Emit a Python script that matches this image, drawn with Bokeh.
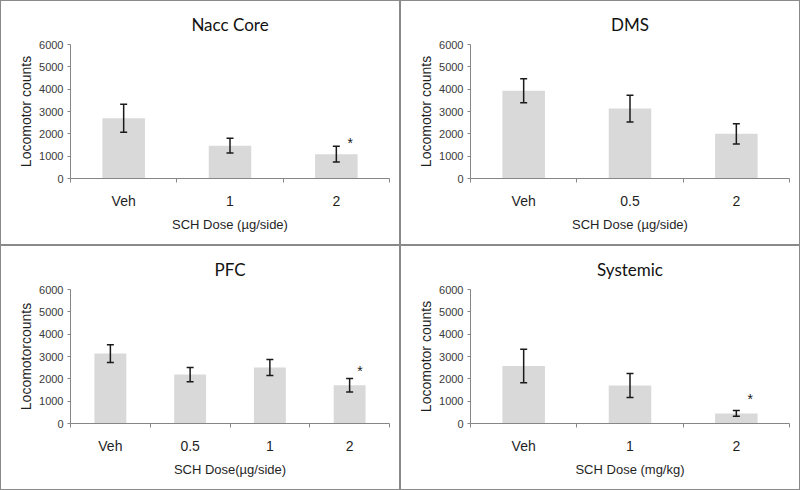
from bokeh.plotting import figure
from bokeh.layouts import column, row
from bokeh.models import (ColumnDataSource, Range1d, FixedTicker, Whisker, TeeHead)
from bokeh.core.properties import value
from bokeh.embed import file_html
from bokeh.resources import INLINE

# ---- data ----
titles = ["Nacc Core", "DMS", "PFC", "Systemic"]
ylabels = ["Locomotor counts", "Locomotor counts", "Locomotorcounts", "Locomotor counts"]
xlabels = ["SCH Dose (µg/side)", "SCH Dose (µg/side)", "SCH Dose(µg/side)", "SCH Dose (mg/kg)"]

nacc_cats = ["Veh", "1", "2"]
nacc_mean = [2700, 1470, 1090]
nacc_err = [630, 330, 350]
nacc_star_y = [None, None, 1600]

dms_cats = ["Veh", "0.5", "2"]
dms_mean = [3930, 3130, 2000]
dms_err = [540, 600, 450]
dms_star_y = [None, None, None]

pfc_cats = ["Veh", "0.5", "1", "2"]
pfc_mean = [3130, 2190, 2510, 1710]
pfc_err = [400, 320, 360, 300]
pfc_star_y = [None, None, None, 2350]

sys_cats = ["Veh", "1", "2"]
sys_mean = [2580, 1700, 450]
sys_err = [750, 540, 130]
sys_star_y = [None, None, 1080]

y_ticks = [0, 1000, 2000, 3000, 4000, 5000, 6000]

TITLE_FONT = "Lato"
FONT = "Liberation Sans"
AXIS_COLOR = "#868686"
TEXT_COLOR = "#1f1f1f"
TICK_COLOR = "#3a3a3a"
BAR_COLOR = "#d9d9d9"
ERR_COLOR = "#1a1a1a"

PW, PH = 400, 245


def panel(title, cats, mean, err, star_y, ylabel, xlabel):
    n = len(cats)
    xs = list(range(1, n + 1))
    p = figure(width=PW, height=PH, output_backend="svg", toolbar_location=None,
               x_range=Range1d(0.5, n + 0.5), y_range=Range1d(0, 6000),
               min_border_left=69, min_border_right=12, min_border_top=0,
               min_border_bottom=68, background_fill_color="white",
               border_fill_color="white")
    p.outline_line_color = None
    p.grid.visible = False

    p.title.text = title
    p.title.align = "center"
    p.title.text_font = TITLE_FONT
    p.title.text_font_size = "17px"
    p.title.text_font_style = "normal"
    p.title.text_color = "#111111"
    p.title.standoff = 20

    src = ColumnDataSource(dict(
        x=xs, top=mean,
        upper=[m + e for m, e in zip(mean, err)],
        lower=[m - e for m, e in zip(mean, err)],
    ))
    p.vbar(x="x", top="top", width=0.4, bottom=0, source=src,
           fill_color=BAR_COLOR, line_color=None)
    w = Whisker(base="x", upper="upper", lower="lower", source=src,
                line_color=ERR_COLOR, line_width=1.5, level="overlay",
                upper_head=TeeHead(size=7, line_color=ERR_COLOR, line_width=1.5),
                lower_head=TeeHead(size=7, line_color=ERR_COLOR, line_width=1.5))
    p.add_layout(w)

    sx = [x + 0.13 for x, s in zip(xs, star_y) if s is not None]
    sy = [s for s in star_y if s is not None]
    if sx:
        p.text(x=sx, y=sy, text=["*"] * len(sx), text_align="center",
               text_baseline="middle", text_font=value(FONT),
               text_font_size="14px", text_color=ERR_COLOR)

    # x axis: labels at bar centres, tick marks between categories
    xa = p.xaxis[0]
    xa.ticker = FixedTicker(ticks=xs, minor_ticks=[x + 0.5 for x in range(0, n + 1)])
    xa.major_label_overrides = {x: c for x, c in zip(xs, cats)}
    xa.major_tick_out = 0
    xa.major_tick_in = 0
    xa.minor_tick_out = 4
    xa.minor_tick_in = 0
    xa.minor_tick_line_color = AXIS_COLOR
    xa.axis_line_color = AXIS_COLOR
    xa.major_label_text_font = FONT
    xa.major_label_text_font_size = "14px"
    xa.major_label_text_color = TEXT_COLOR
    xa.major_label_standoff = 10
    xa.axis_label = xlabel
    xa.axis_label_text_font = FONT
    xa.axis_label_text_font_size = "13px"
    xa.axis_label_text_font_style = "normal"
    xa.axis_label_text_color = TEXT_COLOR
    xa.axis_label_standoff = 5

    ya = p.yaxis[0]
    ya.ticker = FixedTicker(ticks=y_ticks, minor_ticks=[])
    ya.major_tick_out = 3
    ya.major_tick_in = 0
    ya.major_tick_line_color = AXIS_COLOR
    ya.axis_line_color = AXIS_COLOR
    ya.major_label_text_font = FONT
    ya.major_label_text_font_size = "11px"
    ya.major_label_text_color = TICK_COLOR
    ya.major_label_standoff = 4
    ya.axis_label = ylabel
    ya.axis_label_text_font = FONT
    ya.axis_label_text_font_size = "14px"
    ya.axis_label_text_font_style = "normal"
    ya.axis_label_text_color = TEXT_COLOR
    ya.axis_label_standoff = 2

    p.styles = {"border": "1px solid #8a8a8a"}
    return p


p1 = panel(titles[0], nacc_cats, nacc_mean, nacc_err, nacc_star_y, ylabels[0], xlabels[0])
p2 = panel(titles[1], dms_cats, dms_mean, dms_err, dms_star_y, ylabels[1], xlabels[1])
p3 = panel(titles[2], pfc_cats, pfc_mean, pfc_err, pfc_star_y, ylabels[2], xlabels[2])
p4 = panel(titles[3], sys_cats, sys_mean, sys_err, sys_star_y, ylabels[3], xlabels[3])

layout = column(row(p1, p2, spacing=0), row(p3, p4, spacing=0), spacing=0)

open("out.html", "w").write(file_html(layout, INLINE))
